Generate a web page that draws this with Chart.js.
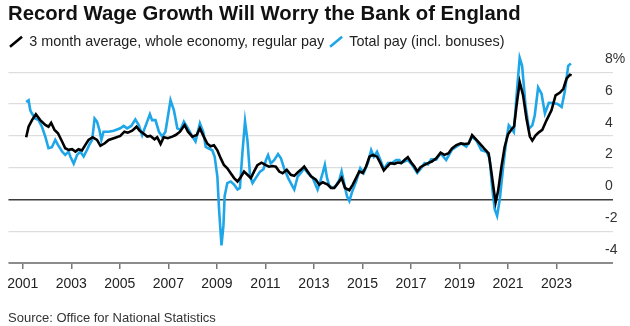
<!DOCTYPE html>
<html>
<head>
<meta charset="utf-8">
<script src="https://cdn.jsdelivr.net/npm/chart.js@4.4.1/dist/chart.umd.min.js"></script>
<style>
  html, body { margin: 0; padding: 0; background: #fff; }
</style>
</head>
<body>
<canvas id="chart" width="630" height="326"></canvas>
<script>
// Regular pay, 3 month average, whole economy (% y/y)
const regularYears = [
  2001.14, 2001.24, 2001.38, 2001.54, 2001.72, 2001.93, 2002.06, 2002.17, 2002.31, 2002.45,
  2002.62, 2002.75, 2002.89, 2003.03, 2003.17, 2003.30, 2003.44, 2003.58, 2003.71, 2003.88,
  2004.06, 2004.20, 2004.38, 2004.54, 2004.75, 2005.02, 2005.19, 2005.33, 2005.51, 2005.69,
  2005.82, 2005.96, 2006.13, 2006.26, 2006.43, 2006.54, 2006.68, 2006.81, 2006.98, 2007.16,
  2007.30, 2007.48, 2007.67, 2007.81, 2007.99, 2008.17, 2008.30, 2008.47, 2008.61, 2008.74,
  2008.88, 2009.02, 2009.16, 2009.29, 2009.43, 2009.57, 2009.71, 2009.85, 2009.98, 2010.12,
  2010.26, 2010.40, 2010.53, 2010.67, 2010.84, 2011.02, 2011.15, 2011.29, 2011.43, 2011.57,
  2011.71, 2011.88, 2012.05, 2012.19, 2012.33, 2012.46, 2012.60, 2012.74, 2012.88, 2013.08,
  2013.22, 2013.36, 2013.57, 2013.70, 2013.84, 2014.00, 2014.14, 2014.28, 2014.46, 2014.60,
  2014.74, 2014.87, 2015.01, 2015.15, 2015.29, 2015.43, 2015.60, 2015.74, 2015.88, 2016.02,
  2016.15, 2016.32, 2016.46, 2016.60, 2016.73, 2016.87, 2017.01, 2017.14, 2017.26, 2017.39,
  2017.56, 2017.70, 2017.86, 2018.04, 2018.22, 2018.38, 2018.55, 2018.69, 2018.87, 2019.05,
  2019.21, 2019.38, 2019.52, 2019.65, 2019.83, 2020.01, 2020.20, 2020.31, 2020.43, 2020.49,
  2020.59, 2020.73, 2020.86, 2021.00, 2021.14, 2021.25, 2021.35, 2021.48, 2021.62, 2021.76,
  2021.90, 2022.00, 2022.13, 2022.27, 2022.41, 2022.59, 2022.79, 2022.96, 2023.14, 2023.28,
  2023.41, 2023.55, 2023.62
];
const regularPay = [
  3.91, 4.57, 4.99, 5.36, 4.99, 4.68, 4.57, 4.82, 4.37, 4.16,
  3.64, 3.22, 3.12, 3.16, 3.01, 3.16, 3.08, 3.43, 3.74, 3.91,
  3.74, 3.37, 3.53, 3.74, 3.85, 3.99, 4.26, 4.20, 4.32, 4.57,
  4.32, 4.16, 3.95, 3.99, 3.78, 3.91, 3.49, 3.91, 3.85, 3.95,
  4.05, 4.26, 4.68, 4.26, 3.95, 4.05, 4.47, 3.92, 3.50, 3.34,
  3.40, 3.09, 2.58, 2.16, 1.96, 1.65, 1.34, 1.13, 1.40, 1.75,
  1.55, 1.34, 1.75, 2.16, 2.31, 2.16, 2.06, 2.10, 2.06, 1.75,
  1.65, 1.86, 1.55, 1.48, 1.69, 1.86, 2.07, 1.76, 1.45, 1.24,
  0.93, 1.08, 0.93, 0.72, 0.72, 1.04, 1.35, 0.72, 0.58, 0.93,
  1.35, 1.76, 1.66, 2.07, 2.69, 2.80, 2.69, 2.28, 1.82, 2.07,
  2.28, 2.24, 2.32, 2.28, 2.48, 2.65, 2.32, 2.07, 1.76, 2.03,
  2.17, 2.28, 2.38, 2.59, 2.94, 2.80, 2.90, 3.21, 3.42, 3.52,
  3.48, 3.52, 4.04, 3.83, 3.52, 3.21, 2.90, 1.76, 0.41, -0.17,
  0.52, 2.07, 3.30, 4.10, 4.40, 4.60, 5.90, 7.38, 6.55, 5.09,
  3.95, 3.70, 4.01, 4.22, 4.37, 4.99, 5.61, 6.55, 6.72, 6.96,
  7.59, 7.84, 7.80
];

// Total pay, including bonuses (% y/y)
const totalYears = [
  2001.14, 2001.24, 2001.31, 2001.38, 2001.51, 2001.65, 2001.79, 2001.93, 2002.06, 2002.20,
  2002.34, 2002.45, 2002.62, 2002.75, 2002.89, 2002.96, 2003.10, 2003.24, 2003.37, 2003.51,
  2003.65, 2003.74, 2003.86, 2003.96, 2004.06, 2004.16, 2004.24, 2004.33, 2004.54, 2004.75,
  2005.02, 2005.16, 2005.30, 2005.47, 2005.64, 2005.78, 2005.92, 2006.10, 2006.24, 2006.33,
  2006.47, 2006.61, 2006.75, 2006.88, 2007.09, 2007.23, 2007.37, 2007.50, 2007.64, 2007.81,
  2007.99, 2008.12, 2008.30, 2008.44, 2008.54, 2008.67, 2008.81, 2008.91, 2009.02, 2009.09,
  2009.19, 2009.27, 2009.32, 2009.43, 2009.57, 2009.71, 2009.85, 2009.95, 2010.05, 2010.16,
  2010.26, 2010.37, 2010.47, 2010.60, 2010.78, 2010.92, 2011.02, 2011.11, 2011.22, 2011.36,
  2011.52, 2011.64, 2011.77, 2011.94, 2012.08, 2012.19, 2012.33, 2012.46, 2012.60, 2012.74,
  2012.95, 2013.15, 2013.26, 2013.36, 2013.45, 2013.54, 2013.63, 2013.77, 2013.91, 2014.05,
  2014.14, 2014.25, 2014.36, 2014.46, 2014.56, 2014.74, 2014.91, 2015.05, 2015.22, 2015.36,
  2015.47, 2015.60, 2015.74, 2015.88, 2016.05, 2016.21, 2016.39, 2016.52, 2016.60, 2016.87,
  2017.08, 2017.26, 2017.42, 2017.56, 2017.70, 2017.83, 2018.04, 2018.22, 2018.45, 2018.69,
  2018.87, 2019.07, 2019.28, 2019.52, 2019.69, 2019.90, 2020.11, 2020.24, 2020.34, 2020.45,
  2020.55, 2020.66, 2020.80, 2020.93, 2021.03, 2021.14, 2021.24, 2021.35, 2021.48, 2021.58,
  2021.66, 2021.72, 2021.86, 2022.00, 2022.10, 2022.24, 2022.38, 2022.52, 2022.68, 2022.86,
  2023.04, 2023.21, 2023.34, 2023.48, 2023.59
];
const totalPay = [
  6.13, 6.24, 5.61, 5.40, 5.09, 4.99, 4.57, 3.95, 3.22, 3.28,
  3.74, 3.43, 3.01, 2.80, 3.01, 2.70, 2.25, 2.80, 3.01, 2.70,
  3.12, 3.43, 3.74, 5.09, 4.89, 4.37, 3.74, 4.26, 4.26, 4.32,
  4.47, 4.62, 4.47, 4.62, 5.03, 4.68, 4.05, 4.78, 5.36, 4.99,
  4.99, 4.26, 3.95, 4.26, 6.24, 5.61, 4.47, 4.37, 4.89, 4.47,
  3.95, 3.64, 4.78, 4.23, 3.30, 3.20, 3.09, 2.68, 1.44, -0.62,
  -2.89, -1.65, 0.21, 1.03, 1.13, 0.93, 0.62, 0.72, 2.89, 4.91,
  3.71, 1.44, 1.03, 1.34, 1.75, 1.90, 2.47, 2.78, 2.27, 2.47,
  2.85, 2.58, 1.96, 1.34, 0.93, 0.62, 1.44, 1.66, 1.97, 1.66,
  1.35, 0.62, 1.14, 1.66, 2.17, 1.35, 0.87, 0.72, 0.87, 1.24,
  1.76, 0.99, 0.21, -0.10, 0.41, 1.14, 1.97, 1.66, 2.28, 3.10,
  2.69, 3.00, 2.48, 1.90, 2.28, 2.28, 2.48, 2.48, 2.30, 2.48,
  2.10, 1.66, 1.97, 2.28, 2.20, 2.52, 2.50, 2.90, 2.48, 3.13,
  3.31, 3.52, 3.31, 3.93, 3.73, 3.10, 3.00, 2.59, 0.83, -0.62,
  -1.04, 0.00, 2.07, 3.73, 4.66, 4.45, 4.24, 6.52, 8.90, 8.40,
  7.00, 5.90, 4.45, 4.66, 5.28, 7.04, 6.65, 5.40, 6.07, 6.06,
  6.00, 5.81, 6.80, 8.40, 8.55
];

const yearTicks = [2001, 2003, 2005, 2007, 2009, 2011, 2013, 2015, 2017, 2019, 2021, 2023];
const pctTicks = [-4, -2, 0, 2, 4, 6, 8];
const pctLabels = ['-4', '-2', '0', '2', '4', '6', '8%'];

const BLUE = '#1fa6e8';

Chart.defaults.font.family = '"Liberation Sans", Arial, sans-serif';
Chart.defaults.color = '#222';

// legend sits a little further left than the layout padding allows
const legendShift = {
  id: 'legendShift',
  beforeDraw(chart) { chart.legend.left = 4; }
};

const toPoints = (xs, ys) => xs.map((x, i) => ({ x, y: ys[i] }));

new Chart(document.getElementById('chart'), {
  type: 'line',
  data: {
    datasets: [
      {
        label: '3 month average, whole economy, regular pay',
        data: toPoints(regularYears, regularPay),
        borderColor: '#000',
        borderWidth: 2.6,
        pointRadius: 0,
        clip: 8
      },
      {
        label: 'Total pay (incl. bonuses)',
        data: toPoints(totalYears, totalPay),
        borderColor: BLUE,
        borderWidth: 2.6,
        pointRadius: 0,
        clip: 8
      }
    ]
  },
  options: {
    responsive: false,
    animation: false,
    devicePixelRatio: 1,
    layout: { padding: { left: 8, right: 0, top: 0, bottom: 0 } },
    plugins: {
      title: {
        display: true,
        text: 'Record Wage Growth Will Worry the Bank of England',
        align: 'start',
        color: '#111',
        font: { size: 20.3, weight: 'bold', lineHeight: 1.1 },
        padding: { top: 3.5, bottom: 2.8 }
      },
      legend: {
        position: 'top',
        align: 'start',
        labels: {
          usePointStyle: true,
          pointStyleWidth: 12,
          boxHeight: 10,
          padding: 6,
          color: '#222',
          font: { size: 14.4 },
          generateLabels: chart => chart.data.datasets.map((ds, i) => ({
            text: ds.label,
            strokeStyle: ds.borderColor,
            fillStyle: ds.borderColor,
            fontColor: '#222',
            lineWidth: 2.6,
            pointStyle: 'line',
            rotation: -45,
            hidden: false,
            datasetIndex: i
          }))
        }
      },
      subtitle: {
        display: true,
        position: 'bottom',
        align: 'start',
        text: 'Source: Office for National Statistics',
        color: '#333',
        font: { size: 13 },
        padding: { top: 10.6, bottom: 0 }
      },
      tooltip: { enabled: false }
    },
    scales: {
      x: {
        type: 'linear',
        min: 2000.41,
        max: 2024.79,
        afterBuildTicks: scale => { scale.ticks = yearTicks.map(v => ({ value: v })); },
        ticks: {
          padding: 7,
          color: '#222',
          font: { size: 14 },
          maxRotation: 0,
          callback: (v, i) => String(yearTicks[i])
        },
        grid: {
          drawOnChartArea: false,
          drawTicks: true,
          tickLength: 6,
          color: '#777',
          lineWidth: 1.5
        },
        border: { display: false }
      },
      y: {
        position: 'right',
        min: -4,
        max: 8.83,
        afterBuildTicks: scale => { scale.ticks = pctTicks.map(v => ({ value: v })); },
        afterFit: scale => { scale.width = 30; },
        ticks: {
          padding: -8,
          labelOffset: -13,
          crossAlign: 'near',
          color: '#333',
          font: { size: 14 },
          callback: (v, i) => pctLabels[i]
        },
        grid: {
          drawTicks: true,
          tickLength: 13,
          color: c => c.tick.value === 0 ? '#3c3c3c' : (c.tick.value === -4 ? '#8c8c8c' : '#dddddd'),
          lineWidth: c => c.tick.value === 0 ? 1.5 : (c.tick.value === -4 ? 2 : 1.2)
        },
        border: { display: false }
      }
    }
  },
  plugins: [legendShift]
});
</script>
</body>
</html>
